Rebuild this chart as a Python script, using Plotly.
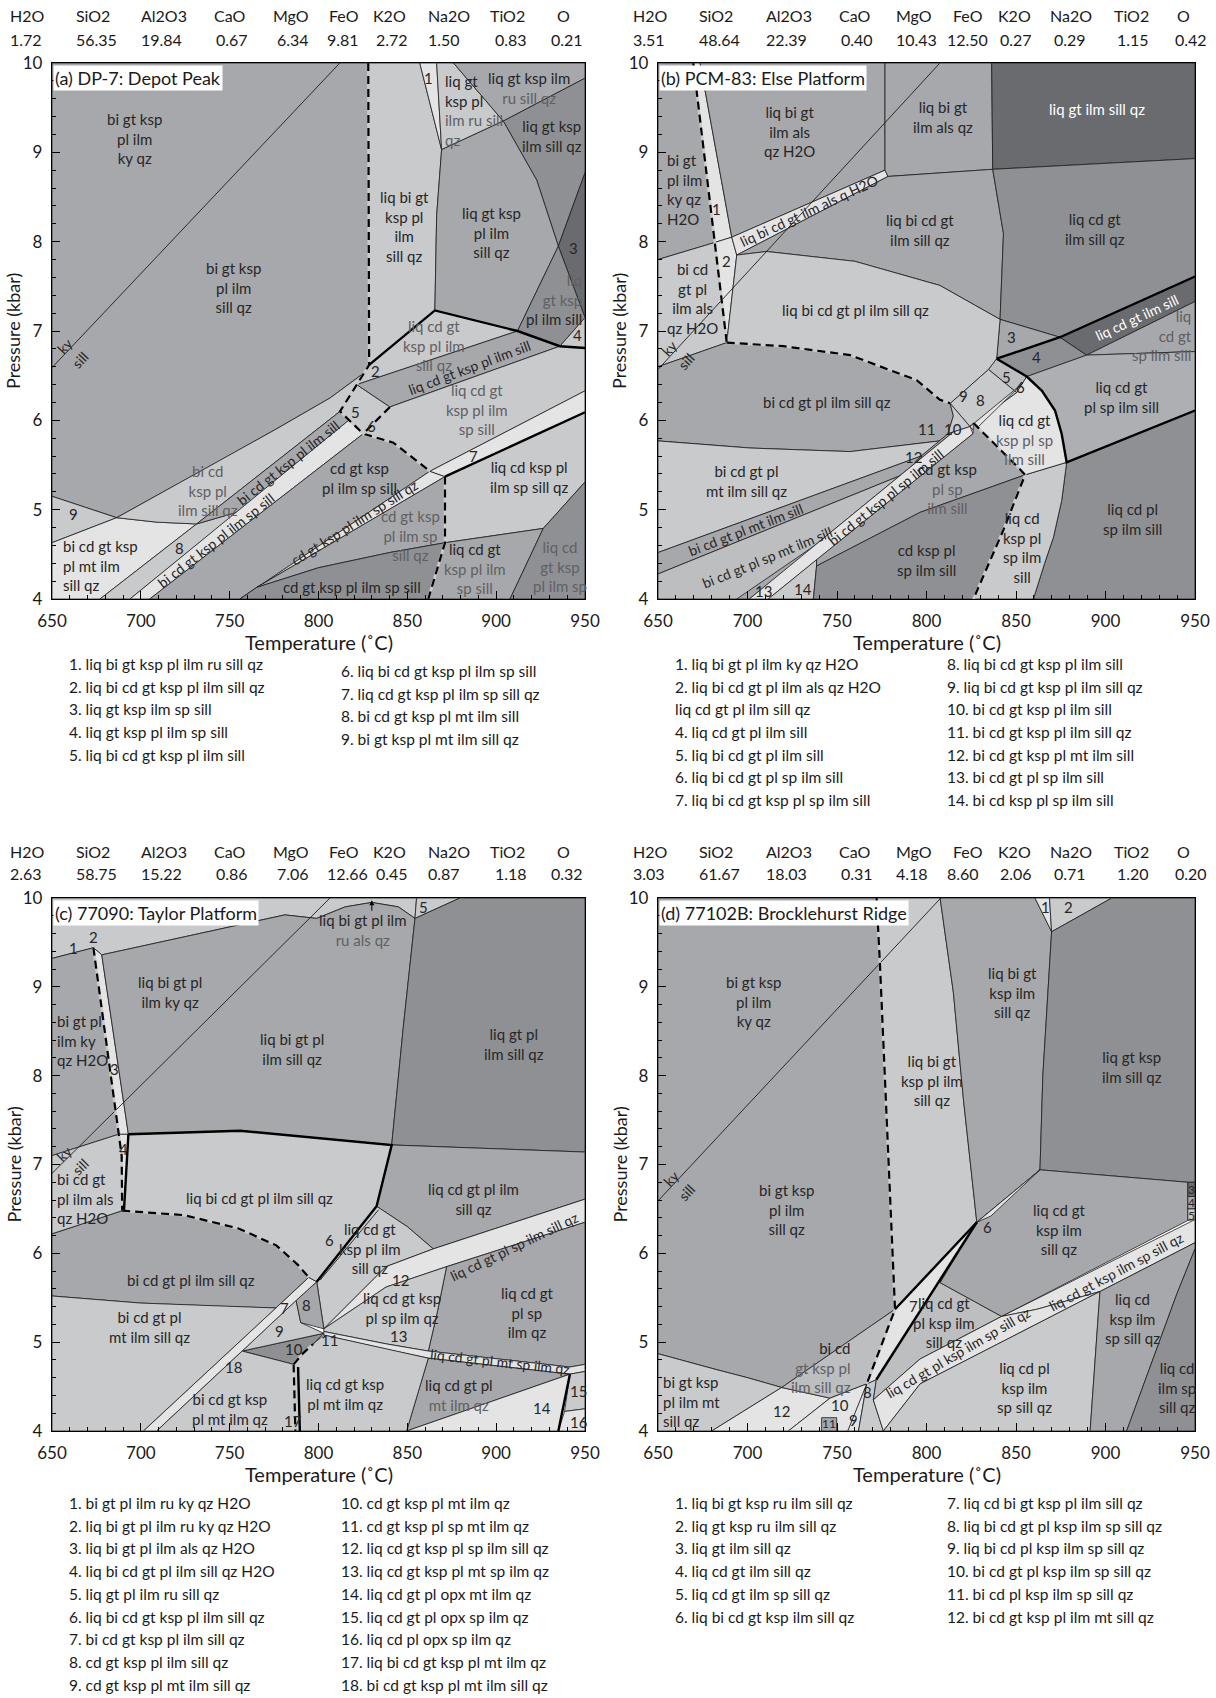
import math
import plotly.graph_objects as go

# ---------------------------------------------------------------- bulk compositions
OXIDES = ["H2O", "SiO2", "Al2O3", "CaO", "MgO", "FeO", "K2O", "Na2O", "TiO2", "O"]
BULK_A = [1.72, 56.35, 19.84, 0.67, 6.34, 9.81, 2.72, 1.50, 0.83, 0.21]
BULK_B = [3.51, 48.64, 22.39, 0.40, 10.43, 12.50, 0.27, 0.29, 1.15, 0.42]
BULK_C = [2.63, 58.75, 15.22, 0.86, 7.06, 12.66, 0.45, 0.87, 1.18, 0.32]
BULK_D = [3.03, 61.67, 18.03, 0.31, 4.18, 8.60, 2.06, 0.71, 1.20, 0.20]

T_RANGE = [650, 950]
P_RANGE = [4, 10]
T_TICKS = [650, 700, 750, 800, 850, 900, 950]
P_TICKS = [4, 5, 6, 7, 8, 9, 10]

TITLES = ["(a) DP-7: Depot Peak", "(b) PCM-83: Else Platform",
          "(c) 77090: Taylor Platform", "(d) 77102B: Brocklehurst Ridge"]

# ---------------------------------------------------------------- (a) DP-7 fields: (shade, [(T, P), ...])
FIELDS_A = [
    ("M", [(650, 10), (828, 10), (828.5, 6.62), (827, 6.55), (806.5, 6.25), (776, 5.9), (746.4, 5.57), (716, 5.24), (686.4, 4.91), (650, 5.15)]),
    ("L", [(650, 5.15), (686.4, 4.91), (650, 4.63)]),
    ("VL", [(650, 4.0), (650, 4.63), (686.4, 4.91), (709, 4.86), (731.4, 4.84), (677, 4.0)]),
    ("L", [(686.4, 4.91), (716, 5.24), (746.4, 5.57), (776, 5.9), (806.5, 6.25), (827, 6.55), (828.5, 6.62), (812.1, 6.1), (731.4, 4.84), (709, 4.86)]),
    ("L", [(677, 4.0), (731.4, 4.84), (753.9, 4.97), (693.9, 4.0)]),
    ("M", [(731.4, 4.84), (812.1, 6.1), (817, 6.0), (753.9, 4.97)]),
    ("VL", [(693.9, 4.0), (817, 6.0), (825.2, 5.85), (705, 4.0)]),
    ("M", [(705, 4.0), (825.2, 5.85), (842.1, 5.75), (856, 5.53), (862.7, 5.43), (755.8, 4.0)]),
    ("VL", [(755.8, 4.0), (862.7, 5.43), (871.2, 5.37), (765.2, 4.13)]),
    ("M", [(765.2, 4.13), (871.2, 5.37), (871.2, 4.63), (840, 4.52), (800, 4.35)]),
    ("MD", [(755.8, 4.0), (765.2, 4.13), (800, 4.35), (840, 4.52), (871.2, 4.63), (861.8, 4.0)]),
    ("L", [(812.1, 6.1), (821.5, 6.4), (840.2, 6.15), (825.2, 5.85), (817, 6.0)]),
    ("L", [(828.5, 6.62), (865.5, 7.23), (912, 7.0), (821.5, 6.4)]),
    ("M", [(821.5, 6.4), (912, 7.0), (935.9, 6.83), (840.2, 6.15)]),
    ("L", [(840.2, 6.15), (935.9, 6.83), (950, 6.81), (950, 6.33), (862.7, 5.43), (856, 5.53), (842.1, 5.75), (825.2, 5.85)]),
    ("VL", [(862.7, 5.43), (950, 6.33), (950, 6.09), (871.2, 5.37)]),
    ("L", [(871.2, 5.37), (950, 6.09), (950, 5.31), (926.5, 4.79), (871.2, 4.63)]),
    ("M", [(871.2, 4.63), (926.5, 4.79), (907.8, 4.0), (861.8, 4.0)]),
    ("MD", [(926.5, 4.79), (950, 5.31), (950, 4.0), (907.8, 4.0)]),
    ("L", [(828, 10), (857, 10), (869.3, 9.03), (866.5, 8.29), (865.5, 7.23), (828.5, 6.62)]),
    ("VL", [(857, 10), (866.5, 10), (869.3, 9.03)]),
    ("L", [(866.5, 10), (876, 10), (904, 9.35), (869.3, 9.03)]),
    ("M", [(876, 10), (950, 10), (950, 9.83), (904, 9.35)]),
    ("MD", [(904, 9.35), (950, 9.83), (950, 8.77), (935, 7.95), (922.8, 8.69)]),
    ("M", [(869.3, 9.03), (904, 9.35), (922.8, 8.69), (935, 7.95), (912, 7.0), (865.5, 7.23), (866.5, 8.29)]),
    ("D", [(950, 8.77), (950, 7.15), (935, 7.95)]),
    ("MD", [(935, 7.95), (950, 7.15), (935.9, 6.83), (912, 7.0)]),
    ("L", [(935.9, 6.83), (950, 6.81), (950, 7.15)]),
]
THIN_A = [[(650, 6.59), (812, 10)]]
DASHED_A = [
    [(828, 10), (828.5, 6.62), (812.1, 6.1), (825.2, 5.85), (842.1, 5.75), (856, 5.53), (862.7, 5.43)],
    [(840.2, 6.15), (825.2, 5.85)],
    [(871.2, 5.37), (871.2, 4.63), (861.8, 4.0)],
]
THICK_A = [
    [(828.5, 6.62), (865.5, 7.23), (912, 7.0), (935.9, 6.83), (950, 6.81)],
    [(871.2, 5.37), (950, 6.09)],
]
# labels: (T, P, text, slope dP/dT or None, anchor)
LABELS_A = [
    (696.7, 9.15, "bi gt ksp|pl ilm|ky qz", None, "c"),
    (752, 7.49, "bi gt ksp|pl ilm|sill qz", None, "c"),
    (662, 4.95, "9", None, "c"),
    (655, 4.38, "bi cd gt ksp|pl mt ilm|sill qz", None, "l"),
    (722, 4.57, "8", None, "c"),
    (738, 5.22, "~bi cd|~ksp pl|~ilm sill qz", None, "c"),
    (783, 5.53, "bi cd gt ksp pl ilm sill", 0.0158, "c"),
    (742, 4.66, "bi cd gt ksp pl ilm sp sill", 0.0155, "c"),
    (820, 4.86, "cd gt ksp pl ilm sp sill qz", 0.0125, "c"),
    (852, 4.71, "~cd gt ksp|~pl ilm sp|~sill qz", None, "c"),
    (818.6, 4.13, "cd gt ksp pl ilm sp sill", None, "c"),
    (823, 5.36, "cd gt ksp|pl ilm sp sill", None, "c"),
    (821, 6.09, "5", None, "c"),
    (830, 5.94, "6", None, "c"),
    (832, 6.55, "2", None, "c"),
    (884.8, 6.59, "liq cd gt ksp pl ilm sill", 0.0075, "c"),
    (865, 6.84, "~liq cd gt|~ksp pl ilm|~sill qz", None, "c"),
    (889, 6.12, "~liq cd gt|~ksp pl ilm|~sp sill", None, "c"),
    (887.1, 5.6, "7", None, "c"),
    (918.5, 5.37, "liq cd ksp pl|ilm sp sill qz", None, "c"),
    (888, 4.34, "liq cd gt|~ksp pl ilm|~sp sill", None, "c"),
    (936, 4.36, "~liq cd|~gt ksp|~pl ilm sp", None, "c"),
    (848.5, 8.17, "liq bi gt|ksp pl|ilm|sill qz", None, "c"),
    (897.4, 8.1, "liq gt ksp|pl ilm|sill qz", None, "c"),
    (931.2, 9.18, "liq gt ksp|ilm sill qz", None, "c"),
    (918.5, 9.72, "liq gt ksp ilm|~ru sill qz", None, "c"),
    (862, 9.83, "1", None, "c"),
    (869.8, 9.47, "liq gt|ksp pl|~ilm ru sill|~qz", None, "l"),
    (943.4, 7.93, "3", None, "c"),
    (949.5, 7.35, "~liq|~gt ksp|pl ilm sill", None, "r"),
    (946, 6.95, "4", None, "c"),
    (657.3, 6.84, "ky", 0.0211, "c"),
    (666, 6.68, "sill", 0.0211, "c"),
]

# ---------------------------------------------------------------- (b) PCM-83
FIELDS_B = [
    ("M", [(650, 10), (669.7, 10), (681.6, 7.99), (650, 7.8)]),
    ("VL", [(669.7, 10), (673.5, 10), (691.2, 8.05), (681.6, 7.99)]),
    ("VL", [(681.6, 7.99), (691.2, 8.05), (694, 7.85), (688.4, 6.87)]),
    ("L", [(650, 7.8), (681.6, 7.99), (688.4, 6.87), (650, 6.6)]),
    ("M", [(673.5, 10), (776.8, 10), (776.8, 8.8), (691.2, 8.05)]),
    ("VL", [(691.2, 8.05), (776.8, 8.8), (778.5, 8.73), (694, 7.85)]),
    ("M", [(776.8, 10), (836.4, 10), (837, 8.81), (778.5, 8.73), (776.8, 8.8)]),
    ("D", [(836.4, 10), (950, 10), (950, 8.93), (837, 8.81)]),
    ("M", [(694, 7.85), (778.5, 8.73), (837, 8.81), (843, 8.09), (841.1, 7.13), (807.5, 7.51), (760, 7.78), (710.7, 7.89)]),
    ("MD", [(837, 8.81), (950, 8.93), (950, 7.61), (874.6, 6.93), (841.1, 7.13), (843, 8.09)]),
    ("M", [(841.1, 7.13), (874.6, 6.93), (839.2, 6.69)]),
    ("MD", [(839.2, 6.69), (874.6, 6.93), (889.5, 6.73), (856, 6.49)]),
    ("D", [(874.6, 6.93), (950, 7.61), (950, 7.33), (889.5, 6.73)]),
    ("M", [(889.5, 6.73), (950, 7.33), (950, 6.77)]),
    ("M2", [(856, 6.49), (889.5, 6.73), (950, 6.77), (950, 6.11), (878.3, 5.53), (875.5, 5.85), (871.8, 6.11), (864.5, 6.33)]),
    ("MD", [(878.3, 5.53), (950, 6.11), (950, 4.0), (859.7, 4.0), (866, 4.4), (870.9, 4.69), (875.5, 5.1)]),
    ("L", [(855.1, 5.39), (878.3, 5.53), (875.5, 5.1), (870.9, 4.69), (866, 4.4), (859.7, 4.0), (826.2, 4.0), (842.9, 4.77)]),
    ("L2", [(839.2, 6.69), (856, 6.49), (850.4, 6.31), (834.6, 6.57)]),
    ("L", [(813.2, 6.19), (834.6, 6.57), (850.4, 6.31), (824.3, 5.93)]),
    ("VL", [(850.4, 6.31), (856, 6.49), (864.5, 6.33), (871.8, 6.11), (875.5, 5.85), (878.3, 5.53), (855.1, 5.39), (852.3, 5.45), (826.2, 5.97), (824.3, 5.93)]),
    ("VL", [(824.3, 5.93), (854, 6.42), (826.5, 5.88)]),
    ("L", [(688.4, 6.87), (694, 7.85), (710.7, 7.89), (760, 7.78), (807.5, 7.51), (841.1, 7.13), (839.2, 6.69), (834.6, 6.57), (813.2, 6.19), (807.5, 6.23), (794.5, 6.45), (757.3, 6.73), (720, 6.83)]),
    ("M", [(650, 6.6), (688.4, 6.87), (720, 6.83), (757.3, 6.73), (794.5, 6.45), (807.5, 6.23), (813.2, 6.19), (815, 6.05), (812, 5.85), (807.5, 5.77), (757.3, 5.65), (701.4, 5.69), (650, 5.77)]),
    ("L", [(815, 6.05), (813.2, 6.19), (824.3, 5.93), (815, 5.87), (812, 5.85)]),
    ("L", [(650, 5.77), (701.4, 5.69), (757.3, 5.65), (807.5, 5.77), (797, 5.6), (650, 4.52)]),
    ("M", [(797, 5.6), (807.5, 5.77), (812, 5.85), (815, 5.87), (800, 5.5)]),
    ("M", [(650, 4.52), (797, 5.6), (800, 5.5), (650, 4.28)]),
    ("L2", [(650, 4.0), (650, 4.28), (800, 5.5), (815, 5.87), (701, 4.0)]),
    ("M", [(694, 4.0), (701, 4.0), (742, 4.66)]),
    ("VL", [(701, 4.0), (815, 5.87), (824.3, 5.93), (826, 5.85), (711.6, 4.0)]),
    ("L", [(711.6, 4.0), (736.8, 4.0), (738.6, 4.37), (738.6, 4.44)]),
    ("M", [(738.6, 4.44), (826, 5.85), (826.2, 5.97), (852.3, 5.45), (855.1, 5.39), (796.4, 4.97), (738.6, 4.37)]),
    ("MD", [(736.8, 4.0), (738.6, 4.37), (796.4, 4.97), (855.1, 5.39), (842.9, 4.77), (826.2, 4.0)]),
]
THIN_B = [[(650, 6.57), (807.5, 10)]]
DASHED_B = [
    [(669.7, 10), (688.4, 6.87)],
    [(688.4, 6.87), (720, 6.83), (757.3, 6.73), (794.5, 6.45), (807.5, 6.23), (813.2, 6.19)],
    [(826.2, 5.97), (840, 5.7), (852.3, 5.45), (855.1, 5.39), (842.9, 4.77), (826.2, 4.0)],
]
THICK_B = [
    [(839.2, 6.69), (874.6, 6.93), (950, 7.61)],
    [(839.2, 6.69), (856, 6.49), (864.5, 6.33), (871.8, 6.11), (875.5, 5.85), (878.3, 5.53), (950, 6.11)],
]
LABELS_B = [
    (723.7, 9.23, "liq bi gt|ilm als|qz H2O", None, "c"),
    (654, 8.58, "bi gt|pl ilm|ky qz|H2O", None, "l"),
    (682.8, 8.37, "1", None, "c"),
    (688, 7.78, "2", None, "c"),
    (734.5, 8.35, "liq bi cd gt ilm als q H2O", 0.0093, "c"),
    (669, 7.36, "bi cd|gt pl|ilm als|qz H2O", None, "c"),
    (656.7, 6.81, "ky", 0.0218, "c"),
    (665.5, 6.66, "sill", 0.0218, "c"),
    (760.4, 7.23, "liq bi cd gt pl ilm sill qz", None, "c"),
    (744.6, 6.21, "bi cd gt pl ilm sill qz", None, "c"),
    (800, 5.9, "11", None, "c"),
    (815, 5.9, "10", None, "c"),
    (820.6, 6.27, "9", None, "c"),
    (829.9, 6.23, "8", None, "c"),
    (792.6, 5.59, "12", None, "c"),
    (844.8, 6.49, "5", None, "c"),
    (852.3, 6.37, "6", None, "c"),
    (847.6, 6.93, "3", None, "c"),
    (861.6, 6.71, "4", None, "c"),
    (708.8, 4.09, "13", None, "c"),
    (731.2, 4.11, "14", None, "c"),
    (699.5, 5.32, "bi cd gt pl|mt ilm sill qz", None, "c"),
    (699, 4.78, "bi cd gt pl mt ilm sill", 0.0077, "c"),
    (711, 4.46, "bi cd gt pl sp mt ilm sill", 0.0082, "c"),
    (777, 5.14, "bi cd gt ksp pl sp ilm sill", 0.0162, "c"),
    (812, 5.24, "cd gt ksp|~pl sp|~ilm sill", None, "c"),
    (800, 4.44, "cd ksp pl|sp ilm sill", None, "c"),
    (853.5, 4.58, "liq cd|ksp pl|sp ilm|sill", None, "c"),
    (915, 4.89, "liq cd pl|sp ilm sill", None, "c"),
    (855, 5.79, "liq cd gt|~ksp pl sp|~ilm sill", None, "c"),
    (909, 6.26, "liq cd gt|pl sp ilm sill", None, "c"),
    (949.5, 6.95, "~liq|~cd gt|~sp ilm sill", None, "r"),
    (917.5, 7.15, "!liq cd gt ilm sill", 0.0093, "c"),
    (894.2, 8.14, "liq cd gt|ilm sill qz", None, "c"),
    (895.5, 9.49, "!liq gt ilm sill qz", None, "c"),
    (809, 9.4, "liq bi gt|ilm als qz", None, "c"),
    (796.4, 8.13, "liq bi cd gt|ilm sill qz", None, "c"),
]

# ---------------------------------------------------------------- (c) 77090
FIELDS_C = [
    ("L", [(650, 10), (855.2, 10), (854.3, 9.77), (845, 9.9), (830, 9.95), (815, 9.9), (799, 9.77), (781.1, 9.81), (678, 9.36), (673.3, 9.44), (650, 9.32)]),
    ("L", [(854.3, 9.77), (855.2, 10), (879.6, 10)]),
    ("M", [(650, 9.32), (673.3, 9.44), (687.5, 7.34), (650, 7.1)]),
    ("VL", [(673.3, 9.44), (678, 9.36), (693, 7.34), (687.5, 7.34)]),
    ("VL", [(687.5, 7.34), (693, 7.34), (690.5, 6.48), (689.5, 6.48), (689.2, 7.1)]),
    ("M", [(678, 9.36), (781.1, 9.81), (799, 9.77), (815, 9.9), (830, 9.95), (845, 9.9), (854.3, 9.77), (847.7, 8.54), (841.2, 7.22), (755.8, 7.38), (693, 7.34)]),
    ("MD", [(854.3, 9.77), (879.6, 10), (950, 10), (950, 7.14), (841.2, 7.22), (847.7, 8.54)]),
    ("M", [(841.2, 7.22), (950, 7.14), (950, 6.61), (864.6, 6.05), (850, 6.3), (832.7, 6.53)]),
    ("L", [(832.7, 6.53), (850, 6.3), (864.6, 6.05), (838, 5.85), (803, 5.15), (799, 5.68)]),
    ("VL", [(803, 5.15), (838, 5.85), (864.6, 6.05), (950, 6.61), (950, 6.35), (872.1, 5.85), (838, 5.62)]),
    ("M", [(872.1, 5.85), (950, 6.35), (950, 4.75), (941.5, 4.72), (861.8, 4.9), (867, 5.35)]),
    ("L", [(803, 5.15), (838, 5.62), (872.1, 5.85), (867, 5.35), (861.8, 4.9), (838.3, 4.98), (803, 5.12)]),
    ("VL", [(803, 5.12), (838.3, 4.98), (861.8, 4.9), (941.5, 4.72), (950, 4.75), (950, 4.67), (941.5, 4.64), (861.8, 4.82), (838.3, 4.92), (803, 5.08)]),
    ("M", [(861.8, 4.82), (941.5, 4.64), (849.6, 4.0)]),
    ("VL", [(849.6, 4.0), (941.5, 4.64), (935, 4.0)]),
    ("L", [(941.5, 4.64), (950, 4.67), (950, 4.25), (938.5, 4.22)]),
    ("VL", [(938.5, 4.22), (950, 4.25), (950, 4.0), (935, 4.0)]),
    ("L", [(803, 5.08), (838.3, 4.92), (861.8, 4.82), (849.6, 4.0), (787, 4.0), (786, 4.75), (797, 4.98)]),
    ("MD", [(757, 4.9), (803, 5.1), (797, 4.98), (786, 4.75)]),
    ("L", [(757, 4.9), (787.4, 5.47), (790, 5.22), (803, 5.1)]),
    ("M", [(787.4, 5.47), (799, 5.68), (803, 5.15), (790, 5.22)]),
    ("VL", [(701.4, 4.0), (776, 5.385), (794.5, 5.73), (799, 5.68), (787.4, 5.47), (757, 4.9), (708.9, 4.0)]),
    ("L", [(708.9, 4.0), (757, 4.9), (786, 4.75), (787, 4.0)]),
    ("M", [(650, 6.22), (689.5, 6.48), (724.4, 6.43), (754.9, 6.28), (776.2, 6.09), (788.4, 5.87), (794.5, 5.73), (776, 5.385), (750, 5.4), (700, 5.44), (650, 5.52)]),
    ("L", [(650, 4.0), (650, 5.52), (700, 5.44), (750, 5.4), (776, 5.385), (701.4, 4.0)]),
    ("L", [(650, 7.1), (687.5, 7.34), (689.2, 7.1), (689.5, 6.48), (650, 6.22)]),
    ("L", [(693, 7.34), (755.8, 7.38), (841.2, 7.22), (832.7, 6.53), (799, 5.68), (794.5, 5.73), (788.4, 5.87), (776.2, 6.09), (754.9, 6.28), (724.4, 6.43), (690.5, 6.48)]),
]
THIN_C = [[(650, 6.9), (806.5, 10)], [(833.8, 6.49), (801, 5.7)]]
DASHED_C = [
    [(673.3, 9.44), (687.5, 7.34), (689.2, 7.1), (689.5, 6.48)],
    [(689.5, 6.48), (724.4, 6.43), (754.9, 6.28), (776.2, 6.09), (788.4, 5.87), (794.5, 5.73)],
    [(786, 4.75), (791, 4.87), (797, 4.98)],
    [(786, 4.75), (787, 4.0)],
]
THICK_C = [
    [(693, 7.34), (755.8, 7.38), (841.2, 7.22), (832.7, 6.53), (799, 5.68)],
    [(693, 7.34), (690.5, 6.48)],
    [(941.5, 4.64), (935, 4.0)],
    [(788.5, 4.72), (789.5, 4.0)],
]
LABELS_C = [
    (662, 9.44, "1", None, "c"),
    (673.5, 9.56, "2", None, "c"),
    (716.4, 8.94, "liq bi gt pl|ilm ky qz", None, "c"),
    (785, 8.3, "liq bi gt pl|ilm sill qz", None, "c"),
    (651.5, 8.4, "bi gt pl|ilm ky|qz H2O", None, "l"),
    (684.9, 8.08, "3", None, "c"),
    (690.4, 7.18, "4", None, "c"),
    (651.5, 6.62, "bi cd gt|pl ilm als|qz H2O", None, "l"),
    (657, 7.12, "ky", 0.0198, "c"),
    (666, 6.98, "sill", 0.0198, "c"),
    (767, 6.62, "liq bi cd gt pl ilm sill qz", None, "c"),
    (728.5, 5.7, "bi cd gt pl ilm sill qz", None, "c"),
    (705, 5.17, "bi cd gt pl|mt ilm sill qz", None, "c"),
    (750.2, 4.25, "bi cd gt ksp|pl mt ilm qz", None, "c"),
    (752, 4.72, "18", None, "c"),
    (781, 5.38, "7", None, "c"),
    (793, 5.42, "8", None, "c"),
    (778, 5.13, "9", None, "c"),
    (786, 4.92, "10", None, "c"),
    (806, 5.03, "11", None, "c"),
    (785.8, 4.11, "17", None, "c"),
    (806, 6.15, "6", None, "c"),
    (829, 6.05, "liq cd gt|ksp pl ilm|sill qz", None, "c"),
    (846, 5.7, "12", None, "c"),
    (847, 5.39, "liq cd gt ksp|pl sp ilm qz", None, "c"),
    (845, 5.07, "13", None, "c"),
    (815, 4.42, "liq cd gt ksp|pl mt ilm qz", None, "c"),
    (879, 4.4, "liq cd gt pl|~mt ilm qz", None, "c"),
    (925.6, 4.26, "14", None, "c"),
    (946.5, 4.45, "15", None, "c"),
    (946.5, 4.1, "16", None, "c"),
    (902, 4.78, "liq cd gt pl mt sp ilm qz", -0.0022, "c"),
    (910, 6.08, "liq cd gt pl sp ilm sill qz", 0.0096, "c"),
    (887.1, 6.61, "liq cd gt pl ilm|sill qz", None, "c"),
    (917.1, 5.33, "liq cd gt|pl sp|ilm qz", None, "c"),
    (910, 8.36, "liq gt pl|ilm sill qz", None, "c"),
    (825.2, 9.64, "liq bi gt pl ilm|~ru als qz", None, "c"),
    (859, 9.9, "5", None, "c"),
]

# ---------------------------------------------------------------- (d) 77102B
FIELDS_D = [
    ("M", [(650, 10), (772.1, 10), (774, 9.25), (782.4, 5.37), (719.1, 4.49), (700, 4.6), (682.8, 4.69), (650, 4.87)]),
    ("L", [(650, 4.0), (650, 4.87), (682.8, 4.69), (700, 4.6), (719.1, 4.49), (680, 4.0)]),
    ("VL", [(680, 4.0), (719.1, 4.49), (746.1, 4.37), (722.8, 4.0)]),
    ("L2", [(719.1, 4.49), (782.4, 5.37), (766.6, 4.53), (746.1, 4.37)]),
    ("VL", [(722.8, 4.0), (746.1, 4.37), (766.6, 4.53), (762, 4.0)]),
    ("M", [(741.4, 4.0), (749.8, 4.0), (749.8, 4.15), (741.4, 4.15)]),
    ("L", [(762, 4.0), (766.6, 4.53), (772, 4.58), (770.3, 4.35), (775.9, 4.0)]),
    ("VL", [(828.1, 6.35), (782.4, 5.37), (766.6, 4.53), (772, 4.58)]),
    ("L", [(772.1, 10), (807.6, 10), (815, 8.94), (820.6, 7.74), (828.1, 6.35), (782.4, 5.37), (774, 9.25)]),
    ("M", [(807.6, 10), (860.6, 10), (869.9, 9.62), (865, 8), (863.4, 6.94), (828.1, 6.35), (820.6, 7.74), (815, 8.94)]),
    ("VL", [(860.6, 10), (868.7, 10), (869.9, 9.62)]),
    ("L", [(868.7, 10), (903.5, 10), (869.9, 9.62)]),
    ("MD", [(869.9, 9.62), (903.5, 10), (950, 10), (950, 6.8), (946, 6.8), (863.4, 6.94), (865, 8)]),
    ("L2", [(828.1, 6.35), (772, 4.58), (770.3, 4.35), (796.4, 4.81), (842, 5.29), (807.6, 5.67)]),
    ("M", [(828.1, 6.35), (863.4, 6.94), (946, 6.8), (946, 6.37), (842, 5.29), (807.6, 5.67)]),
    ("VL", [(828.1, 6.35), (863.4, 6.94), (836, 6.42)]),
    ("D", [(946, 6.8), (950, 6.8), (950, 6.64), (946, 6.64)]),
    ("M", [(946, 6.64), (950, 6.64), (950, 6.5), (946, 6.5)]),
    ("L", [(946, 6.5), (950, 6.5), (950, 6.38), (946, 6.37)]),
    ("VL", [(842, 5.29), (950, 6.38), (950, 6.12), (896.9, 5.57), (861.6, 5.37)]),
    ("VL", [(770.3, 4.35), (796.4, 4.81), (842, 5.29), (861.6, 5.37), (896.9, 5.57), (796.4, 4.53), (775.9, 4.0)]),
    ("L", [(796.4, 4.53), (896.9, 5.57), (891.4, 4.0), (775.9, 4.0)]),
    ("M", [(896.9, 5.57), (950, 6.12), (950, 6.05), (940, 5.55), (930, 5.0), (920, 4.45), (911.8, 4.0), (891.4, 4.0)]),
    ("MD", [(950, 6.05), (950, 4.0), (911.8, 4.0), (920, 4.45), (930, 5.0), (940, 5.55)]),
]
THIN_D = [[(650, 6.59), (808, 10)], [(756, 4.0), (766.6, 4.53)]]
DASHED_D = [[(772.1, 10), (774, 9.25), (782.4, 5.37), (766.6, 4.53)]]
THICK_D = [
    [(828.1, 6.35), (782.4, 5.37)],
    [(828.1, 6.35), (772, 4.58)],
]
LABELS_D = [
    (703.3, 8.84, "bi gt ksp|pl ilm|ky qz", None, "c"),
    (721.9, 6.49, "bi gt ksp|pl ilm|sill qz", None, "c"),
    (657.3, 6.84, "ky", 0.0216, "c"),
    (666, 6.68, "sill", 0.0216, "c"),
    (803, 7.95, "liq bi gt|ksp pl ilm|sill qz", None, "c"),
    (848, 8.94, "liq bi gt|ksp ilm|sill qz", None, "c"),
    (915, 8.1, "liq gt ksp|ilm sill qz", None, "c"),
    (874, 6.27, "liq cd gt|ksp ilm|sill qz", None, "c"),
    (834, 6.3, "6", None, "c"),
    (810, 5.22, "liq cd gt|pl ksp ilm|sill qz", None, "c"),
    (792.6, 5.41, "7", None, "c"),
    (767, 4.44, "8", None, "c"),
    (759, 4.12, "9", None, "c"),
    (751.5, 4.29, "10", None, "c"),
    (745.6, 4.08, "11", None, "cs"),
    (719.1, 4.23, "12", None, "c"),
    (759, 4.71, "bi cd|~gt ksp pl|~ilm sill qz", None, "r"),
    (651.5, 4.33, "bi gt ksp|pl ilm mt|sill qz", None, "l"),
    (817.7, 4.88, "liq cd gt pl ksp ilm sp sill qz", 0.0118, "c"),
    (906, 5.8, "liq cd gt ksp ilm sp sill qz", 0.0108, "c"),
    (855, 4.49, "liq cd pl|ksp ilm|sp sill qz", None, "c"),
    (915, 5.27, "liq cd|ksp ilm|sp sill qz", None, "c"),
    (940, 4.49, "liq cd|ilm sp|sill qz", None, "c"),
    (866.2, 9.9, "1", None, "c"),
    (879.3, 9.9, "2", None, "c"),
    (948, 6.72, "3", None, "cs"),
    (948, 6.57, "4", None, "cs"),
    (948, 6.43, "5", None, "cs"),
]

# ---------------------------------------------------------------- assemblage keys
LEGEND_A1 = ["1. liq bi gt ksp pl ilm ru sill qz", "2. liq bi cd gt ksp pl ilm sill qz", "3. liq gt ksp ilm sp sill",
             "4. liq gt ksp pl ilm sp sill", "5. liq bi cd gt ksp pl ilm sill"]
LEGEND_A2 = ["6. liq bi cd gt ksp pl ilm sp sill", "7. liq cd gt ksp pl ilm sp sill qz", "8. bi cd gt ksp pl mt ilm sill",
             "9. bi gt ksp pl mt ilm sill qz"]
LEGEND_B1 = ["1. liq bi gt pl ilm ky qz H2O", "2. liq bi cd gt pl ilm als qz H2O", "liq cd gt pl ilm sill qz",
             "4. liq cd gt pl ilm sill", "5. liq bi cd gt pl ilm sill", "6. liq bi cd gt pl sp ilm sill",
             "7. liq bi cd gt ksp pl sp ilm sill"]
LEGEND_B2 = ["8. liq bi cd gt ksp pl ilm sill", "9. liq bi cd gt ksp pl ilm sill qz", "10. bi cd gt ksp pl ilm sill",
             "11. bi cd gt ksp pl ilm sill qz", "12. bi cd gt ksp pl mt ilm sill", "13. bi cd gt pl sp ilm sill",
             "14. bi cd ksp pl sp ilm sill"]
LEGEND_C1 = ["1. bi gt pl ilm ru ky qz H2O", "2. liq bi gt pl ilm ru ky qz H2O", "3. liq bi gt pl ilm als qz H2O",
             "4. liq bi cd gt pl ilm sill qz H2O", "5. liq gt pl ilm ru sill qz", "6. liq bi cd gt ksp pl ilm sill qz",
             "7. bi cd gt ksp pl ilm sill qz", "8. cd gt ksp pl ilm sill qz", "9. cd gt ksp pl mt ilm sill qz"]
LEGEND_C2 = ["10. cd gt ksp pl mt ilm qz", "11. cd gt ksp pl sp mt ilm qz", "12. liq cd gt ksp pl sp ilm sill qz",
             "13. liq cd gt ksp pl mt sp ilm qz", "14. liq cd gt pl opx mt ilm qz", "15. liq cd gt pl opx sp ilm qz",
             "16. liq cd pl opx sp ilm qz", "17. liq bi cd gt ksp pl mt ilm qz", "18. bi cd gt ksp pl mt ilm sill qz"]
LEGEND_D1 = ["1. liq bi gt ksp ru ilm sill qz", "2. liq gt ksp ru ilm sill qz", "3. liq gt ilm sill qz",
             "4. liq cd gt ilm sill qz", "5. liq cd gt ilm sp sill qz", "6. liq bi cd gt ksp ilm sill qz"]
LEGEND_D2 = ["7. liq cd bi gt ksp pl ilm sill qz", "8. liq bi cd gt pl ksp ilm sp sill qz",
             "9. liq bi cd pl ksp ilm sp sill qz", "10. bi cd gt pl ksp ilm sp sill qz",
             "11. bi cd pl ksp ilm sp sill qz", "12. bi cd gt ksp pl ilm mt sill qz"]

# ================================================================ styling / layout
W, H = 1216, 1698
FONT = "Lato, 'Open Sans', sans-serif"
SHADES = {"VL": "#e4e4e5", "L": "#c9cacc", "L2": "#bdbec0", "M": "#a7a8ab", "M2": "#aeafb2",
          "MD": "#8f9094", "D": "#6a6b6f"}
EDGE = "#1c1c1c"
DARK_TXT = "#262626"
GRAY_TXT = "#5f6063"

# plot frames in pixels: (left, right, top, bottom)
FRAMES = [(52, 585, 63, 599), (658, 1195, 63, 599), (52, 585, 898, 1431), (658, 1195, 898, 1431)]
HDR_X_LEFT = [7, 68, 128, 196, 250, 302, 343, 393, 451, 513]
HDR_V_LEFT = [7, 68, 128, 198, 254, 300, 345, 393, 455, 507]
HDR_X_RIGHT = [583, 644, 706, 773, 826, 878, 920, 968, 1027, 1085]
HDR_V_RIGHT = [583, 644, 706, 775, 826, 873, 922, 972, 1030, 1083]
SCALE = 1216 / 1123.0

panels = [
    (FIELDS_A, THIN_A, DASHED_A, THICK_A, LABELS_A),
    (FIELDS_B, THIN_B, DASHED_B, THICK_B, LABELS_B),
    (FIELDS_C, THIN_C, DASHED_C, THICK_C, LABELS_C),
    (FIELDS_D, THIN_D, DASHED_D, THICK_D, LABELS_D),
]

fig = go.Figure()
annotations = []


def refs(i):
    s = "" if i == 1 else str(i)
    return "x" + s, "y" + s


def path_xy(pts, close=False):
    xs = [p[0] for p in pts]
    ys = [p[1] for p in pts]
    if close:
        xs.append(pts[0][0])
        ys.append(pts[0][1])
    return xs, ys


def fmt(text):
    color = DARK_TXT
    if text.startswith("!"):
        color = "white"
        text = text[1:]
    out = []
    for ln in text.split("|"):
        if ln.startswith("~"):
            out.append("<span style='color:%s'>%s</span>" % (GRAY_TXT, ln[1:]))
        else:
            out.append(ln)
    return "<br>".join(out), color


for i, (fields, thin, dashed, thick, labels) in enumerate(panels, start=1):
    xr, yr = refs(i)
    left, right, top, bottom = FRAMES[i - 1]
    xpx = (right - left) / (T_RANGE[1] - T_RANGE[0])
    ypx = (bottom - top) / (P_RANGE[1] - P_RANGE[0])

    for shade, verts in fields:
        xs, ys = path_xy(verts, close=True)
        fig.add_trace(go.Scatter(x=xs, y=ys, mode="lines", fill="toself", fillcolor=SHADES[shade],
                                 line=dict(color=EDGE, width=0.8), hoverinfo="skip", showlegend=False,
                                 xaxis=xr, yaxis=yr))
    for pts in thin:
        xs, ys = path_xy(pts)
        fig.add_trace(go.Scatter(x=xs, y=ys, mode="lines", line=dict(color=EDGE, width=0.9),
                                 hoverinfo="skip", showlegend=False, xaxis=xr, yaxis=yr))
    for pts in dashed:
        xs, ys = path_xy(pts)
        fig.add_trace(go.Scatter(x=xs, y=ys, mode="lines", line=dict(color=SHADES["L"], width=2.6),
                                 hoverinfo="skip", showlegend=False, xaxis=xr, yaxis=yr))
        fig.add_trace(go.Scatter(x=xs, y=ys, mode="lines", line=dict(color="black", width=2.2, dash="8px,5px"),
                                 hoverinfo="skip", showlegend=False, xaxis=xr, yaxis=yr))
    for pts in thick:
        xs, ys = path_xy(pts)
        fig.add_trace(go.Scatter(x=xs, y=ys, mode="lines", line=dict(color="black", width=2.4),
                                 hoverinfo="skip", showlegend=False, xaxis=xr, yaxis=yr))

    for (t, p, text, slope, anchor) in labels:
        txt, col = fmt(text)
        ang = 0.0
        size = 15
        if slope is not None:
            ang = -math.degrees(math.atan(slope * ypx / xpx))
            size = 14
        if anchor.endswith("s"):
            size = 12
        xa = {"c": "center", "l": "left", "r": "right"}[anchor[0]]
        annotations.append(dict(x=t, y=p, xref=xr, yref=yr, text=txt, showarrow=False, textangle=ang,
                                xanchor=xa, yanchor="middle", align=xa,
                                font=dict(family=FONT, size=size, color=col)))

    # panel title box
    annotations.append(dict(x=650.6, y=9.975, xref=xr, yref=yr, text=TITLES[i - 1], showarrow=False,
                            xanchor="left", yanchor="top", bgcolor="white", borderpad=1,
                            font=dict(family=FONT, size=18, color="#1a1a1a")))

# arrow pointing to the small field at the top of panel (c)
annotations.append(dict(x=830, y=9.975, ax=830, ay=9.84, xref="x3", yref="y3", axref="x3", ayref="y3",
                        text="", showarrow=True, arrowhead=2, arrowsize=1, arrowwidth=1, arrowcolor="black"))

# ---- headers with bulk compositions
bulks = [BULK_A, BULK_B, BULK_C, BULK_D]
for i, bulk in enumerate(bulks):
    lx = HDR_X_LEFT if i in (0, 2) else HDR_X_RIGHT
    vx = HDR_V_LEFT if i in (0, 2) else HDR_V_RIGHT
    ly, vy = (16, 39) if i < 2 else (851, 873)
    for name, val, x1, x2 in zip(OXIDES, bulk, lx, vx):
        annotations.append(dict(x=x1 * SCALE / W, y=1 - ly / H, xref="paper", yref="paper", text=name,
                                showarrow=False, xanchor="left", yanchor="middle",
                                font=dict(family=FONT, size=16, color="#1a1a1a")))
        annotations.append(dict(x=x2 * SCALE / W, y=1 - vy / H, xref="paper", yref="paper", text="%.2f" % val,
                                showarrow=False, xanchor="left", yanchor="middle",
                                font=dict(family=FONT, size=16, color="#1a1a1a")))

# ---- axis titles
for i in range(4):
    left, right, top, bottom = FRAMES[i]
    annotations.append(dict(x=(left + right) / 2 / W, y=1 - (bottom + 43) / H, xref="paper", yref="paper",
                            text="Temperature (˚C)", showarrow=False, xanchor="center", yanchor="middle",
                            font=dict(family=FONT, size=20, color="#1a1a1a")))
    annotations.append(dict(x=(left - 39) / W, y=1 - (top + bottom) / 2 / H, xref="paper", yref="paper",
                            text="Pressure (kbar)", showarrow=False, textangle=-90, xanchor="center",
                            yanchor="middle", font=dict(family=FONT, size=18, color="#1a1a1a")))

# ---- assemblage keys
legend_cols = [
    (LEGEND_A1, 67, 664), (LEGEND_A2, 339, 671),
    (LEGEND_B1, 673, 664), (LEGEND_B2, 945, 664),
    (LEGEND_C1, 67, 1503), (LEGEND_C2, 339, 1503),
    (LEGEND_D1, 673, 1503), (LEGEND_D2, 945, 1503),
]
for items, x0, y0 in legend_cols:
    for k, item in enumerate(items):
        annotations.append(dict(x=x0 / W, y=1 - (y0 + 22.7 * k) / H, xref="paper", yref="paper", text=item,
                                showarrow=False, xanchor="left", yanchor="middle",
                                font=dict(family=FONT, size=15.5, color="#1a1a1a")))

layout = dict(width=W, height=H, margin=dict(l=0, r=0, t=0, b=0, pad=0, autoexpand=False),
              paper_bgcolor="white", plot_bgcolor="white", showlegend=False, annotations=annotations,
              font=dict(family=FONT))
for i in range(1, 5):
    s = "" if i == 1 else str(i)
    left, right, top, bottom = FRAMES[i - 1]
    layout["xaxis" + s] = dict(domain=[left / W, right / W], range=T_RANGE, anchor="y" + s,
                               tickvals=T_TICKS, ticks="inside", ticklen=8, tickwidth=1, tickcolor="black",
                               showline=True, linecolor="black", linewidth=1.4, mirror=True,
                               showgrid=False, zeroline=False, ticklabelstandoff=6, automargin=False,
                               tickfont=dict(family=FONT, size=17, color="#1a1a1a"),
                               minor=dict(ticks="inside", ticklen=4, dtick=10, tick0=650,
                                          tickcolor="black", tickwidth=1, showgrid=False),
                               fixedrange=True)
    layout["yaxis" + s] = dict(domain=[1 - bottom / H, 1 - top / H], range=P_RANGE, anchor="x" + s,
                               tickvals=P_TICKS, ticks="inside", ticklen=8, tickwidth=1, tickcolor="black",
                               showline=True, linecolor="black", linewidth=1.4, mirror=True,
                               showgrid=False, zeroline=False, ticklabelstandoff=5, automargin=False,
                               tickfont=dict(family=FONT, size=17, color="#1a1a1a"),
                               minor=dict(ticks="inside", ticklen=4, dtick=0.2, tick0=4,
                                          tickcolor="black", tickwidth=1, showgrid=False),
                               fixedrange=True)
fig.update_layout(**layout)
fig.write_html("out.html")
